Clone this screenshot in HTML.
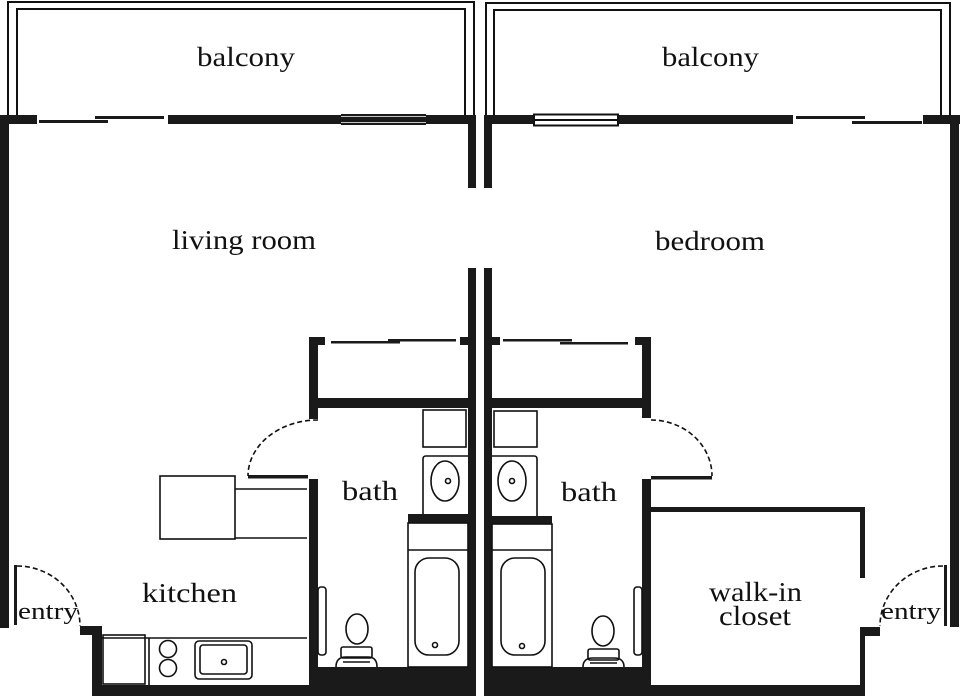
<!DOCTYPE html>
<html><head><meta charset="utf-8"><style>html,body{margin:0;padding:0;background:#fff}svg{display:block}text{font-family:"Liberation Serif",serif;fill:#111}</style></head><body>
<svg width="960" height="696" viewBox="0 0 960 696" xmlns="http://www.w3.org/2000/svg">
<g fill="none" stroke="#111" stroke-width="2">
<!-- balconies -->
<polyline points="8,116 8,2 474,2 474,116"/>
<polyline points="17,116 17,9 465,9 465,116"/>
<polyline points="486,116 486,3 950,3 950,116"/>
<polyline points="494,116 494,10 941,10 941,116"/>
</g>
<g fill="#1a1a1a">
<!-- left unit top wall -->
<rect x="0" y="115" width="37" height="9"/>
<rect x="39" y="120" width="69" height="3"/>
<rect x="95" y="116" width="69" height="3"/>
<rect x="168" y="115" width="306" height="9"/>
<rect x="0" y="115" width="9" height="513"/>
<rect x="468" y="115" width="8" height="73"/>
<rect x="468" y="268" width="8" height="428"/>
<!-- right unit top wall -->
<rect x="484" y="115" width="50" height="9"/>
<rect x="618" y="115" width="175" height="9"/>
<rect x="796" y="116" width="69" height="3"/>
<rect x="852" y="121" width="70" height="3"/>
<rect x="923" y="115" width="37" height="9"/>
<rect x="950" y="115" width="9" height="512"/>
<rect x="484" y="115" width="8" height="73"/>
<rect x="484" y="268" width="8" height="428"/>
</g>
<!-- window left -->
<rect x="341" y="114" width="85" height="11" fill="#1a1a1a"/>
<line x1="341" y1="116.5" x2="426" y2="116.5" stroke="#fff" stroke-width="0.8"/>
<line x1="341" y1="122.5" x2="426" y2="122.5" stroke="#fff" stroke-width="0.8"/>
<!-- window right -->
<rect x="534" y="114.5" width="84" height="11" fill="#fff" stroke="#111" stroke-width="2"/>
<line x1="534" y1="120" x2="618" y2="120" stroke="#111" stroke-width="2"/>

<!-- LEFT lower -->
<g fill="#1a1a1a">
<rect x="309" y="337" width="9" height="82"/>
<rect x="309" y="337" width="16" height="8"/>
<rect x="331" y="341" width="69" height="2.5"/>
<rect x="388" y="339" width="68" height="2.5"/>
<rect x="460" y="337" width="10" height="8"/>
<rect x="309" y="398" width="161" height="10"/>
<rect x="248" y="475" width="60" height="3.5"/>
<rect x="309" y="479" width="9" height="216"/>
<rect x="309" y="667" width="161" height="29"/>
<rect x="92" y="685" width="380" height="11"/>
<rect x="92" y="626" width="10" height="70"/>
<rect x="80" y="626" width="20" height="9"/>
<rect x="14" y="565" width="3" height="60"/>
<rect x="408" y="514" width="61" height="9"/>
</g>
<g fill="none" stroke="#111" stroke-width="1.6">
<path d="M318,420 A70,56 0 0 0 248,476" stroke-dasharray="5,3"/>
<path d="M17,566 A63,60 0 0 1 80,626" stroke-dasharray="5,3"/>
<rect x="160" y="476" width="75" height="63"/>
<line x1="235" y1="489" x2="307" y2="489"/>
<line x1="235" y1="538" x2="307" y2="538"/>
<line x1="102" y1="638" x2="307" y2="638"/>
<rect x="103" y="635" width="42" height="49"/>
<line x1="149" y1="638" x2="149" y2="685"/>
<circle cx="168" cy="649" r="8.5"/>
<circle cx="168" cy="668" r="8.5"/>
<rect x="195" y="641" width="57" height="38" rx="4"/>
<rect x="200" y="645" width="47" height="29" rx="3"/>
<circle cx="224" cy="662" r="2.5"/>
<rect x="423" y="410" width="43" height="37"/>
<path d="M468,456 L426,456 Q423,456 423,459 L423,514"/>
<ellipse cx="445" cy="481" rx="14" ry="20"/>
<circle cx="448" cy="481" r="2.5"/>
<rect x="408" y="523" width="60" height="144"/>
<line x1="408" y1="550" x2="468" y2="550"/>
<rect x="415" y="558" width="44" height="97" rx="14"/>
<circle cx="435" cy="645" r="2.5"/>
<rect x="318" y="587" width="8" height="68" rx="3"/>
<ellipse cx="357" cy="629" rx="11" ry="15"/>
<rect x="341" y="647" width="31" height="11" rx="2"/>
<path d="M336,667 Q336,657 346,657 L368,657 Q377,657 377,667"/>
<line x1="343" y1="662" x2="370" y2="662"/>
</g>

<!-- RIGHT lower -->
<g fill="#1a1a1a">
<rect x="492" y="337" width="8" height="8"/>
<rect x="503" y="339" width="69" height="2.5"/>
<rect x="560" y="342" width="68" height="2.5"/>
<rect x="635" y="337" width="16" height="8"/>
<rect x="642" y="337" width="9" height="81"/>
<rect x="492" y="398" width="159" height="10"/>
<rect x="651" y="476" width="61" height="3.5"/>
<rect x="642" y="479" width="9" height="217"/>
<rect x="492" y="667" width="159" height="29"/>
<rect x="651" y="507" width="214" height="5"/>
<rect x="860" y="507" width="5" height="71"/>
<rect x="860" y="627" width="5" height="69"/>
<rect x="860" y="627" width="20" height="9"/>
<rect x="651" y="685" width="214" height="11"/>
<rect x="944" y="565" width="3" height="61"/>
<rect x="492" y="516" width="60" height="8"/>
</g>
<g fill="none" stroke="#111" stroke-width="1.6">
<path d="M651,420 A61,56 0 0 1 712,476" stroke-dasharray="5,3"/>
<path d="M943,566 A63,60 0 0 0 880,626" stroke-dasharray="5,3"/>
<rect x="494" y="411" width="43" height="36"/>
<path d="M492,456 L534,456 Q537,456 537,459 L537,516"/>
<ellipse cx="512" cy="481" rx="14" ry="20"/>
<circle cx="512" cy="481" r="2.5"/>
<rect x="492" y="524" width="60" height="143"/>
<line x1="492" y1="550" x2="552" y2="550"/>
<rect x="501" y="558" width="44" height="97" rx="14"/>
<circle cx="522" cy="646" r="2.5"/>
<rect x="634" y="587" width="8" height="68" rx="3"/>
<ellipse cx="603" cy="631" rx="11" ry="15"/>
<rect x="588" y="649" width="31" height="11" rx="2"/>
<path d="M583,667 Q583,658 593,658 L614,658 Q624,658 624,667"/>
<line x1="590" y1="663" x2="617" y2="663"/>
</g>

<!-- labels -->
<text x="197" y="66" font-size="27" textLength="98" lengthAdjust="spacingAndGlyphs">balcony</text>
<text x="662" y="66" font-size="27" textLength="97" lengthAdjust="spacingAndGlyphs">balcony</text>
<text x="172" y="249" font-size="27" textLength="144" lengthAdjust="spacingAndGlyphs">living room</text>
<text x="655" y="250" font-size="27" textLength="110" lengthAdjust="spacingAndGlyphs">bedroom</text>
<text x="342" y="500" font-size="27" textLength="56" lengthAdjust="spacingAndGlyphs">bath</text>
<text x="561" y="501" font-size="27" textLength="56" lengthAdjust="spacingAndGlyphs">bath</text>
<text x="142" y="602" font-size="27" textLength="95" lengthAdjust="spacingAndGlyphs">kitchen</text>
<text x="709" y="601" font-size="27" textLength="93" lengthAdjust="spacingAndGlyphs">walk-in</text>
<text x="719" y="625" font-size="27" textLength="72" lengthAdjust="spacingAndGlyphs">closet</text>
<text x="18" y="619" font-size="24" textLength="60" lengthAdjust="spacingAndGlyphs">entry</text>
<text x="881" y="619" font-size="24" textLength="60" lengthAdjust="spacingAndGlyphs">entry</text>
</svg>
</body></html>
